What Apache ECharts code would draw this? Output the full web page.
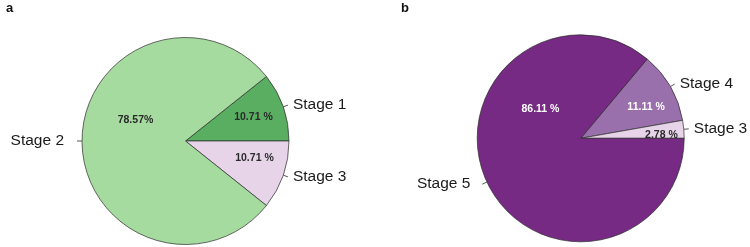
<!DOCTYPE html>
<html>
<head>
<meta charset="utf-8">
<script src="https://cdn.jsdelivr.net/npm/echarts@6/dist/echarts.min.js"></script>
<style>
  html, body { margin: 0; padding: 0; background: #fff; }
  #chart { width: 750px; height: 247px; }
</style>
</head>
<body>
<div id="chart"></div>
<script>
// panel a
const stagesA = ['Stage 1', 'Stage 3', 'Stage 2'];
const countsA = [3, 3, 22];
const colorsA = ['#5aae61', '#e7d4e8', '#a6dba0'];
// panel b
const stagesB = ['Stage 4', 'Stage 3', 'Stage 5'];
const countsB = [4, 1, 31];
const colorsB = ['#9970ab', '#e7d4e8', '#762a83'];

const R = 103.5;
const font = 'Liberation Sans, Arial, sans-serif';

function pct(vals, i, sep) {
    const total = vals.reduce((s, v) => s + v, 0);
    return (vals[i] / total * 100).toFixed(2) + sep;
}

function sumOf(vals) {
    return vals.reduce((s, v) => s + v, 0);
}

// inner percentage labels need a nudge for the big wedge
const innerShift = {
    a: {'Stage 2': [22, -21], 'Stage 3': [1, -7]},
    b: {'Stage 5': [25, -60], 'Stage 4': [3, 5], 'Stage 3': [9, 3]},
};
const innerColor = {
    a: {},
    b: {'Stage 5': '#fff', 'Stage 4': '#fff'},
};
const outerPad = {
    a: {'Stage 2': [0, 8, 0, 0]},
    b: {'Stage 5': [0, 7, 0, 0]},
};

function buildPies(key, names, vals, colors, center, startAngle, sepFor) {
    const outer = {
        type: 'pie',
        center: center,
        radius: R,
        startAngle: startAngle,
        clockwise: true,
        avoidLabelOverlap: false,
        silent: true,
        itemStyle: {borderColor: '#2b2b2b', borderWidth: 0.7},
        label: {
            show: true,
            position: 'outside',
            formatter: '{b}',
            color: '#1a1a1a',
            fontFamily: font,
            fontSize: 15.5,
        },
        labelLine: {
            show: true,
            length: 5,
            length2: 0,
            lineStyle: {color: '#2b2b2b', width: 0.8},
        },
        data: names.map((n, i) => ({
            name: n,
            value: vals[i],
            itemStyle: {color: colors[i]},
            label: outerPad[key][n] ? {padding: outerPad[key][n]} : {},
        })),
    };
    const inner = {
        type: 'pie',
        center: center,
        radius: [0, 138],
        startAngle: startAngle,
        clockwise: true,
        avoidLabelOverlap: false,
        silent: true,
        z: 3,
        itemStyle: {color: 'rgba(0,0,0,0)', borderWidth: 0},
        labelLine: {show: false},
        label: {
            show: true,
            position: 'inside',
            fontFamily: font,
            fontSize: 10.5,
            fontWeight: 'bold',
            color: '#2a2a2a',
        },
        data: names.map((n, i) => ({
            name: n,
            value: vals[i],
            label: {
                formatter: pct(vals, i, sepFor(n)),
                offset: innerShift[key][n] || [0, 0],
                color: innerColor[key][n] || '#2a2a2a',
            },
        })),
    };
    return [outer, inner];
}

const chart = echarts.init(document.getElementById('chart'), null, {renderer: 'canvas'});
chart.setOption({
    backgroundColor: '#fff',
    animation: false,
    title: [
        {text: 'a', left: 1, top: -3, textStyle: {fontFamily: font, fontSize: 13, fontWeight: 'bold', color: '#111'}},
        {text: 'b', left: 396, top: -3, textStyle: {fontFamily: font, fontSize: 13, fontWeight: 'bold', color: '#111'}},
    ],
    series: [
        ...buildPies('a', stagesA, countsA, colorsA, [185.5, 141],
            countsA[0] / sumOf(countsA) * 360,
            (n) => (n === 'Stage 2' ? '%' : ' %')),
        ...buildPies('b', stagesB, countsB, colorsB, [580.7, 138.3],
            (countsB[0] + countsB[1]) / sumOf(countsB) * 360,
            () => ' %'),
    ],
});
</script>
</body>
</html>
